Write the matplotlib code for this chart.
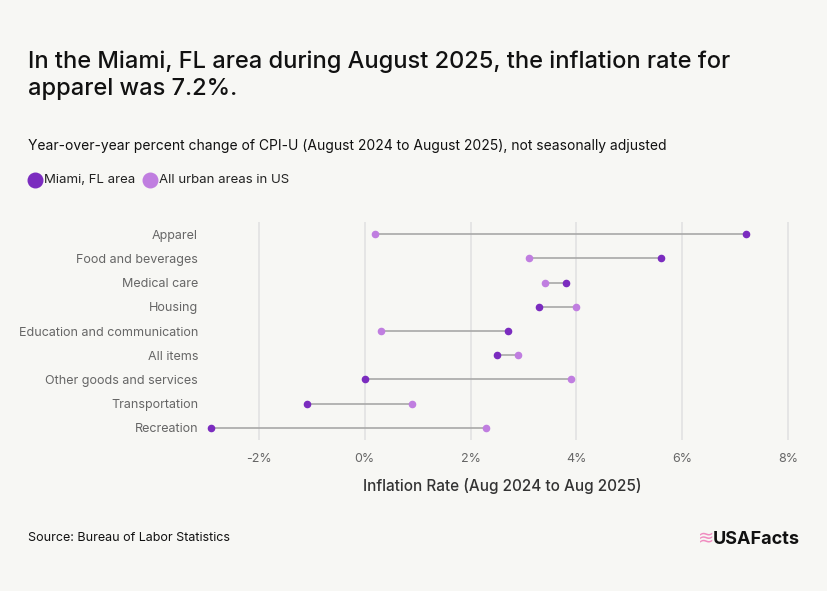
import matplotlib.pyplot as plt

plt.rcParams['font.family'] = ['Inter', 'DejaVu Sans']

categories = ["Apparel", "Food and beverages", "Medical care", "Housing",
              "Education and communication", "All items",
              "Other goods and services", "Transportation", "Recreation"]
miami = [7.2, 5.6, 3.8, 3.3, 2.7, 2.5, 0.0, -1.1, -2.9]
us = [0.2, 3.1, 3.4, 4.0, 0.3, 2.9, 3.9, 0.9, 2.3]
xticks = [-2, 0, 2, 4, 6, 8]

dark = "#7B2CBF"
light = "#C07EE0"
bg = "#F7F7F4"

fig = plt.figure(figsize=(8.28, 5.91), dpi=100, facecolor=bg)
base = fig.add_axes([0, 0, 1, 1])
base.axis("off")
base.set_xlim(0, 828)
base.set_ylim(591, 0)

ax = fig.add_axes([205 / 828, 1 - 440 / 591, (800 - 205) / 828, (440 - 222) / 591])
ax.set_facecolor(bg)

y = list(range(len(categories)))
for i in y:
    ax.plot([miami[i], us[i]], [i, i], color="#A8A8A8", lw=1.2, zorder=2)
ax.scatter(us, y, color=light, s=20, zorder=3)
ax.scatter(miami, y, color=dark, s=20, zorder=4)

ax.set_xlim(-2 - 54 / 52.9, 8 + 12 / 52.9)
ax.set_ylim(len(categories) - 0.5, -0.5)
ax.set_xticks(xticks)
ax.set_xticklabels([f"{t}%" for t in xticks], color="#666666", fontsize=9)
ax.set_yticks(y)
ax.set_yticklabels(categories, color="#666666", fontsize=9)
ax.tick_params(axis='x', length=0, pad=9)
ax.tick_params(axis='y', length=0, pad=5)
ax.grid(axis='x', color="#E2E2E2", lw=1.2, zorder=0)
for s in ax.spines.values():
    s.set_visible(False)
ax.set_xlabel("Inflation Rate (Aug 2024 to Aug 2025)", fontsize=11, color="#333333",
              fontweight="medium", labelpad=10)

base.text(28, 75,
          "In the Miami, FL area during August 2025, the inflation rate for\napparel was 7.2%.",
          fontsize=17, fontweight="medium", color="#111111", va="center", linespacing=1.3)
base.text(28, 146,
          "Year-over-year percent change of CPI-U (August 2024 to August 2025), not seasonally adjusted",
          fontsize=10, color="#111111", va="center")
base.scatter([35], [180], s=110, color=dark, clip_on=False)
base.text(44, 180, "Miami, FL area", fontsize=9.5, color="#222222", va="center")
base.scatter([150], [180], s=110, color=light, clip_on=False)
base.text(159, 180, "All urban areas in US", fontsize=9.5, color="#222222", va="center")
base.text(28, 538, "Source: Bureau of Labor Statistics",
          fontsize=9, color="#111111", va="center")
base.text(800, 539, "USAFacts", fontsize=13, fontweight="bold",
          color="#111111", va="center", ha="right")
base.text(706, 539, "≋", fontsize=14, color="#F08CC0", va="center", ha="center")

fig.savefig("out.png", dpi=100, facecolor=bg)
